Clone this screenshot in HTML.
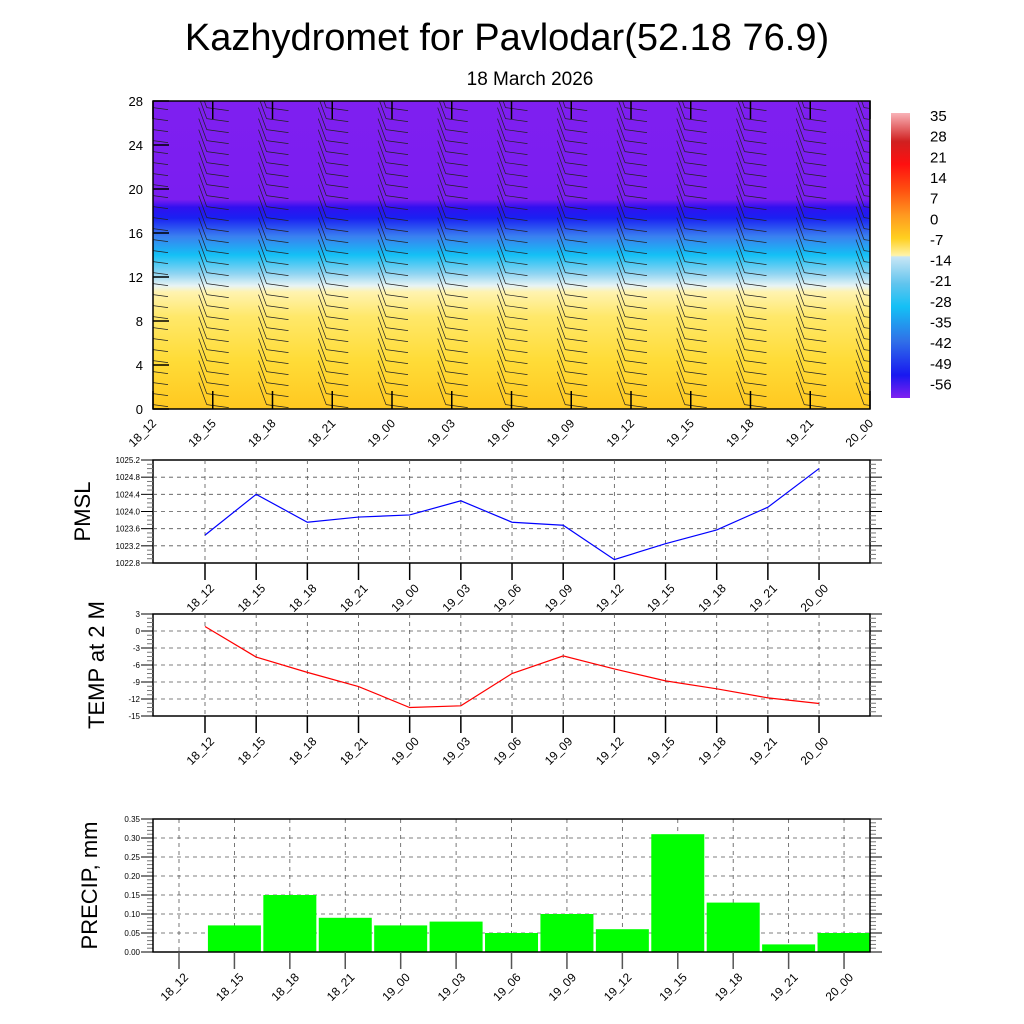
<!DOCTYPE html>
<html><head><meta charset="utf-8"><style>
html,body{margin:0;padding:0;background:#fff;}
svg{display:block;font-family:"Liberation Sans",sans-serif;}
</style></head><body>
<svg id="c" width="1024" height="1024" viewBox="0 0 1024 1024" xmlns="http://www.w3.org/2000/svg">
<defs>
<linearGradient id="tg" x1="0" y1="0" x2="0" y2="1">
<stop offset="0" stop-color="#7f1ff0"/>
<stop offset="0.32" stop-color="#7a1ef0"/>
<stop offset="0.345" stop-color="#3010f0"/>
<stop offset="0.38" stop-color="#1a20f2"/>
<stop offset="0.44" stop-color="#3a80f0"/>
<stop offset="0.5" stop-color="#14c0f5"/>
<stop offset="0.56" stop-color="#8ed4f2"/>
<stop offset="0.6" stop-color="#e8f4f5"/>
<stop offset="0.62" stop-color="#fff3b0"/>
<stop offset="0.7" stop-color="#ffe86a"/>
<stop offset="0.84" stop-color="#ffdc38"/>
<stop offset="1" stop-color="#ffc820"/>
</linearGradient>
<linearGradient id="cbg" x1="0" y1="0" x2="0" y2="1">
<stop offset="0" stop-color="#f9b3b8"/>
<stop offset="0.1" stop-color="#d02020"/>
<stop offset="0.18" stop-color="#ff1010"/>
<stop offset="0.27" stop-color="#ff5010"/>
<stop offset="0.36" stop-color="#ff9a20"/>
<stop offset="0.44" stop-color="#ffd020"/>
<stop offset="0.5" stop-color="#fff3a8"/>
<stop offset="0.505" stop-color="#c8e6f5"/>
<stop offset="0.6" stop-color="#60c4ee"/>
<stop offset="0.68" stop-color="#14c0f5"/>
<stop offset="0.8" stop-color="#3070e8"/>
<stop offset="0.92" stop-color="#1818f0"/>
<stop offset="1" stop-color="#8020f0"/>
</linearGradient>
<clipPath id="topclip"><rect x="153" y="101" width="717" height="308"/></clipPath>
</defs>
<text x="507" y="50" font-size="38" text-anchor="middle">Kazhydromet for Pavlodar(52.18 76.9)</text>
<text x="530" y="85" font-size="19" text-anchor="middle">18 March 2026</text>
<rect x="153" y="101" width="717" height="308" fill="url(#tg)"/>
<g id="barbs" clip-path="url(#topclip)"></g>
<rect x="153" y="101" width="717" height="308" fill="none" stroke="#000" stroke-width="1.5"/>
<g id="topaxes"></g>
<rect x="891" y="113" width="19" height="285" fill="url(#cbg)"/>
<g id="cblabels"></g>
<g id="pmsl"></g>
<g id="temp"></g>
<g id="precip"></g>
</svg>
<script>
const times = ["18_12","18_15","18_18","18_21","19_00","19_03","19_06","19_09","19_12","19_15","19_18","19_21","20_00"];
const pmslValues = [1023.45,1024.4,1023.75,1023.87,1023.92,1024.25,1023.75,1023.68,1022.88,1023.25,1023.57,1024.1,1025.0];
const tempValues = [0.8,-4.6,-7.3,-9.8,-13.5,-13.2,-7.5,-4.4,-6.7,-8.8,-10.2,-11.8,-12.8];
const precipValues = [0,0.07,0.15,0.09,0.07,0.08,0.05,0.10,0.06,0.31,0.13,0.02,0.05];
const heightTicks = [0,4,8,12,16,20,24,28];
const pmslTicks = ["1022.8","1023.2","1023.6","1024.0","1024.4","1024.8","1025.2"];
const tempTicks = [-15,-12,-9,-6,-3,0,3];
const precipTicks = ["0.00","0.05","0.10","0.15","0.20","0.25","0.30","0.35"];
const cbLabels = ["35","28","21","14","7","0","-7","-14","-21","-28","-35","-42","-49","-56"];

const NS="http://www.w3.org/2000/svg";
function el(tag,attrs,parent,txt){const e=document.createElementNS(NS,tag);for(const k in attrs)e.setAttribute(k,attrs[k]);if(txt!==undefined)e.textContent=txt;parent.appendChild(e);return e;}

const topAx=document.getElementById('topaxes');
const tx=i=>153+i*(717/12);
const ty=v=>409-v/28*308;
heightTicks.forEach(v=>{
  const t=el('text',{x:143,y:ty(v)+5,'font-size':13,'text-anchor':'end'},topAx,String(v));
  
  
  el('line',{x1:153,x2:169,y1:ty(v),y2:ty(v),stroke:'#000','stroke-width':1.5},topAx);
});
times.forEach((s,i)=>{
  const x=tx(i);
  el('line',{x1:x,x2:x,y1:409,y2:391,stroke:'#000','stroke-width':1.5},topAx);
  el('line',{x1:x,x2:x,y1:101,y2:119,stroke:'#000','stroke-width':1.5},topAx);
  const t=el('text',{x:x+4,y:424,'font-size':12,'text-anchor':'end',transform:`rotate(-45 ${x+4} 424)`},topAx,s);
  
  
});
const bg=document.getElementById('barbs');
times.forEach((s,i)=>{
  const cx=tx(i);
  for(let h=0.4;h<28;h+=1.0){
    const y=ty(h);
    if(i===0){el('line',{x1:cx,x2:cx+15,y1:y,y2:y+2,stroke:'#222','stroke-width':0.8},bg);continue;}
    el('line',{x1:cx-14,y1:y-22,x2:cx-6,y2:y,stroke:'#222','stroke-width':0.7},bg);
    el('line',{x1:cx-6,y1:y,x2:cx+16,y2:y+3,stroke:'#222','stroke-width':0.7},bg);
  }
});
const cb=document.getElementById('cblabels');
cbLabels.forEach((s,i)=>{
  const t=el('text',{x:930,y:121+i*20.65,'font-size':15},cb,s);
  
  
});

function linePanel(g,y0,y1,ticks,vmin,vmax,vals,color,title,titleX,fs){
  const L=153,R=870;
  const px=i=>205+i*51.17;
  const py=v=>y1-(v-vmin)/(vmax-vmin)*(y1-y0);
  el('rect',{x:L,y:y0,width:R-L,height:y1-y0,fill:'none',stroke:'#000','stroke-width':1.5},g);
  ticks.forEach((s,k)=>{
    const v=vmin+k*(vmax-vmin)/(ticks.length-1);const y=py(v);
    if(k>0&&k<ticks.length-1) el('line',{x1:L,x2:R,y1:y,y2:y,stroke:'#555','stroke-width':0.8,'stroke-dasharray':'4,4'},g);
    el('line',{x1:L-12,x2:L,y1:y,y2:y,stroke:'#000'},g);
    el('line',{x1:R,x2:R+12,y1:y,y2:y,stroke:'#000'},g);
    if(k<ticks.length-1) for(let m=1;m<4;m++){const ym=y-m*(y1-y0)/(ticks.length-1)/4;
      el('line',{x1:L-6,x2:L,y1:ym,y2:ym,stroke:'#777'},g);el('line',{x1:R,x2:R+6,y1:ym,y2:ym,stroke:'#777'},g);}
    const t=el('text',{x:L-13,y:y+3,'font-size':8,'text-anchor':'end'},g,s);
    
    
  });
  times.forEach((s,i)=>{
    const x=px(i);
    el('line',{x1:x,x2:x,y1:y0,y2:y1,stroke:'#555','stroke-width':0.8,'stroke-dasharray':'4,4'},g);
    el('line',{x1:x,x2:x,y1:y1,y2:y1+17,stroke:'#000','stroke-width':1.5},g);
    const t=el('text',{x:x+10,y:y1+26,'font-size':12,'text-anchor':'end',transform:`rotate(-45 ${x+10} ${y1+26})`},g,s);
    
    
  });
  const d=vals.map((v,i)=>(i?'L':'M')+px(i)+' '+py(v)).join(' ');
  const p=el('path',{d:d,fill:'none',stroke:color,'stroke-width':1.2},g);
  
  
  const cy=(y0+y1)/2;
  const t=el('text',{x:titleX,y:cy,'font-size':fs,'text-anchor':'middle',transform:`rotate(-90 ${titleX} ${cy})`},g,title);
  
  
}
linePanel(document.getElementById('pmsl'),460,563,pmslTicks,1022.8,1025.2,pmslValues,'#0000ff','PMSL',90,22);
linePanel(document.getElementById('temp'),614,716,tempTicks.map(String),-15,3,tempValues,'#ff0000','TEMP at 2 M',104,22);

(function(){
  const g=document.getElementById('precip');
  const L=153,R=870,y0=819,y1=952,vmax=0.35;
  const px=i=>179+i*55.42;
  const py=v=>y1-v/vmax*(y1-y0);
  precipTicks.forEach((s,k)=>{
    const v=k*0.05;const y=py(v);
    if(k>0&&k<precipTicks.length-1) el('line',{x1:L,x2:R,y1:y,y2:y,stroke:'#555','stroke-width':0.8,'stroke-dasharray':'4,4'},g);
    el('line',{x1:L-12,x2:L,y1:y,y2:y,stroke:'#000'},g);
    el('line',{x1:R,x2:R+12,y1:y,y2:y,stroke:'#000'},g);
    if(k<precipTicks.length-1) for(let m=1;m<5;m++){const ym=y-m*(y1-y0)/7/5;
      el('line',{x1:L-6,x2:L,y1:ym,y2:ym,stroke:'#777'},g);el('line',{x1:R,x2:R+6,y1:ym,y2:ym,stroke:'#777'},g);}
    const t=el('text',{x:L-13,y:y+3,'font-size':8,'text-anchor':'end'},g,s);
    
    
  });
  times.forEach((s,i)=>{
    const x=px(i);
    el('line',{x1:x,x2:x,y1:y0,y2:y1,stroke:'#555','stroke-width':0.8,'stroke-dasharray':'4,4'},g);
  });
  precipValues.forEach((v,i)=>{
    if(v<=0) return;
    const x=px(i);
    const b=el('rect',{x:x-26.5,y:py(v),width:53,height:y1-py(v),fill:'#00ff00'},g);
    
    
  });
  el('rect',{x:L,y:y0,width:R-L,height:y1-y0,fill:'none',stroke:'#000','stroke-width':1.5},g);
  times.forEach((s,i)=>{
    const x=px(i);
    el('line',{x1:x,x2:x,y1:y1,y2:y1+17,stroke:'#555','stroke-width':1.5},g);
    const t=el('text',{x:x+10,y:y1+26,'font-size':12,'text-anchor':'end',transform:`rotate(-45 ${x+10} ${y1+26})`},g,s);
    
    
  });
  const cy=(y0+y1)/2;
  const t=el('text',{x:97,y:cy,'font-size':22,'text-anchor':'middle',transform:`rotate(-90 97 ${cy})`},g,'PRECIP, mm');
  
  
})();
</script>
</body></html>
